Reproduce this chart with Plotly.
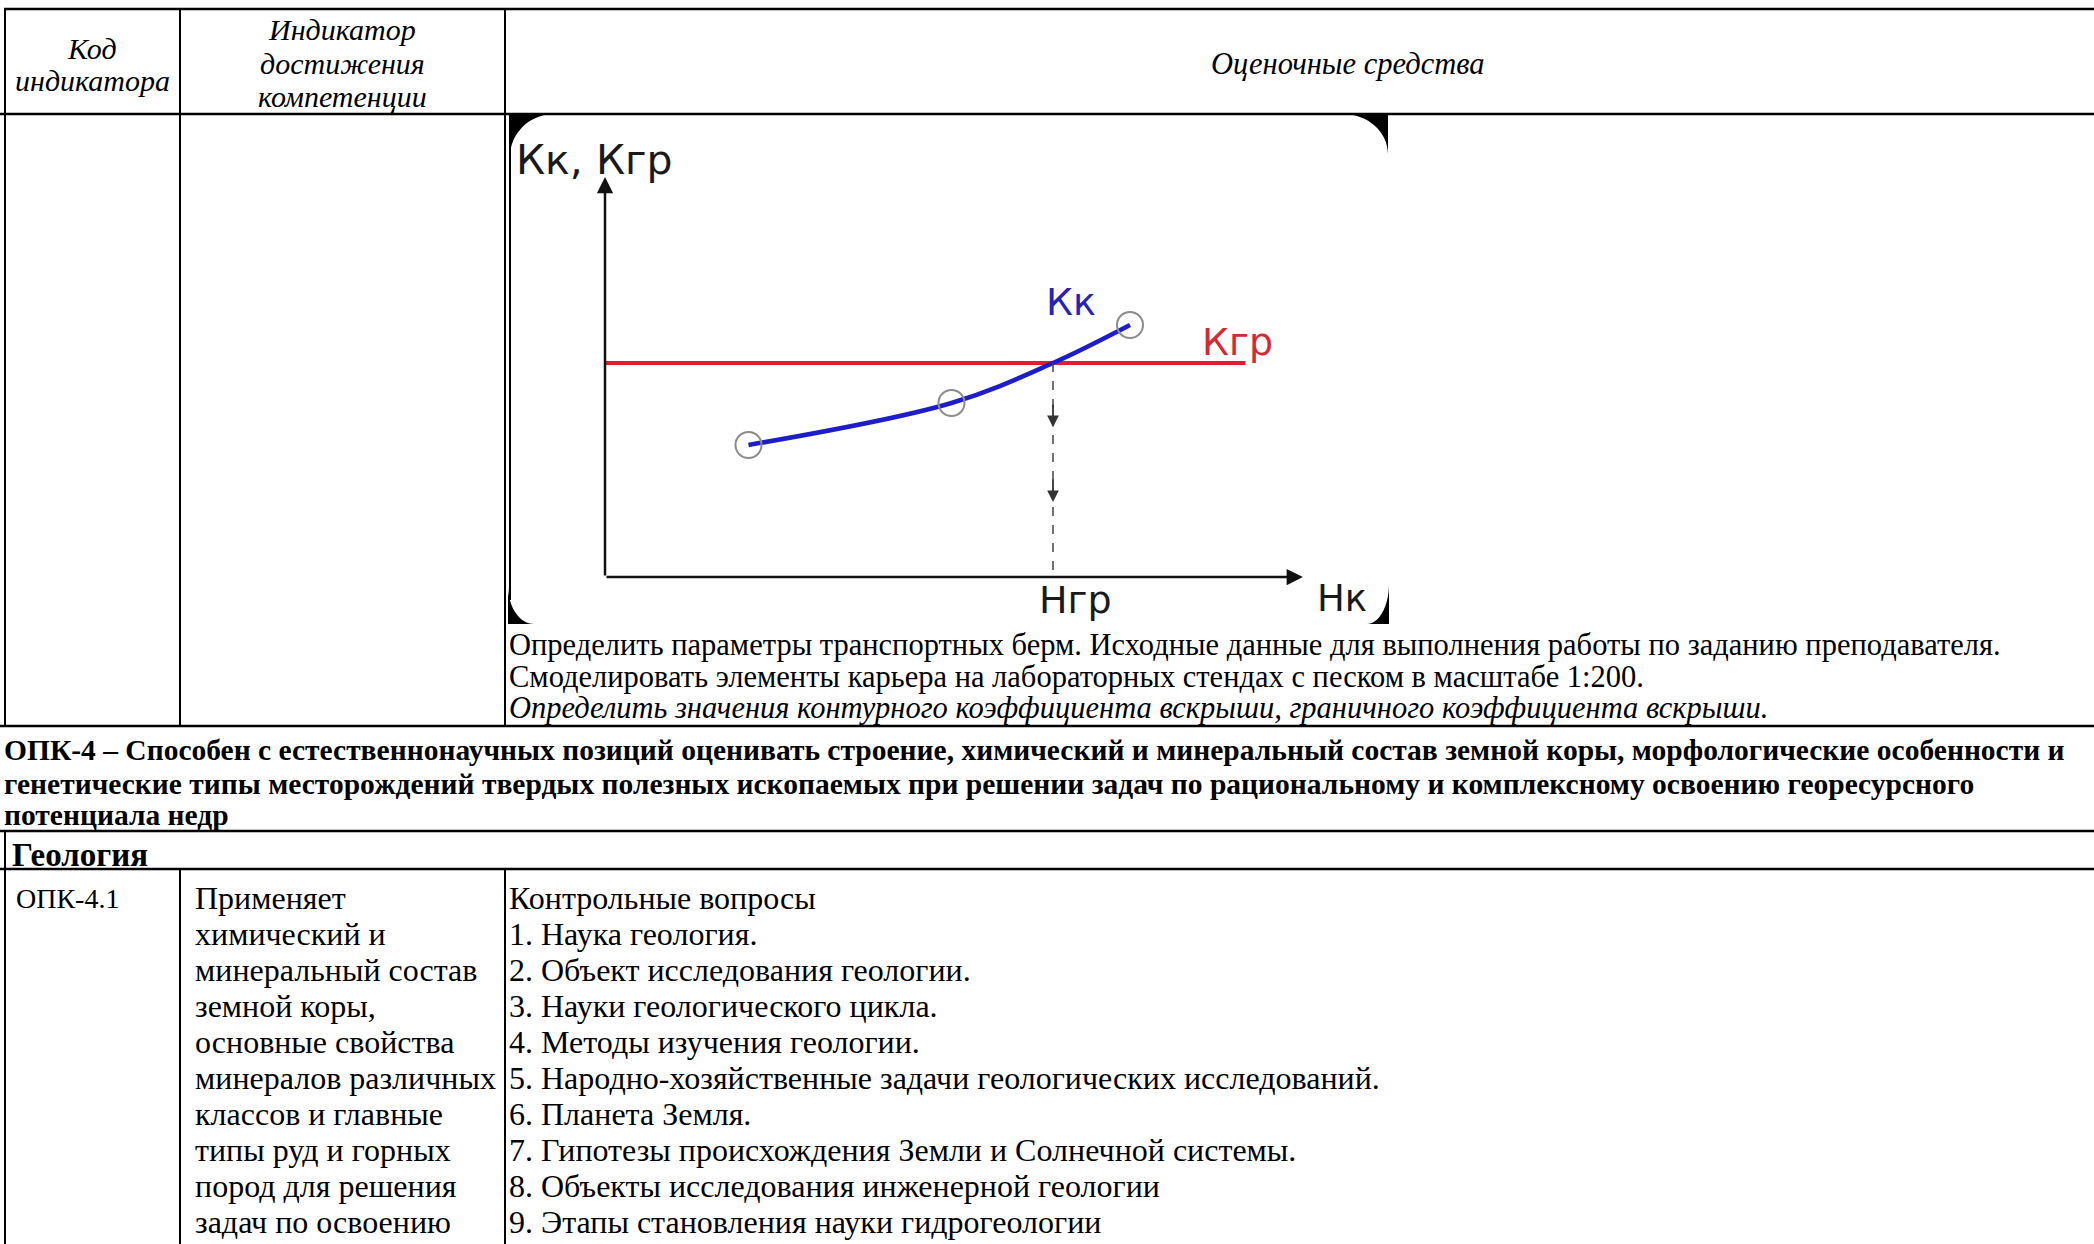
import plotly.graph_objects as go

W, H = 2094, 1244

# ---------------- chart data ----------------
hk_points = [2.05, 4.95, 7.5]          # Нк at the measured points
kk_points = [3.3, 4.35, 6.3]           # Кк at the measured points
hk_curve = [2.05, 4.95, 6.4, 7.5]      # Кк curve incl. crossing with Кгр
kk_curve = [3.3, 4.35, 5.35, 6.3]
kgr_value = 5.35                        # Кгр level
ngr_value = 6.4                         # Нгр
kgr_line_x = [0, 9.15]
axis_max = 10

chart_labels = {"y": "Кк, Кгр", "kk": "Кк", "kgr": "Кгр", "ngr": "Нгр", "nk": "Нк"}

# ---------------- table text ----------------
header_col1 = ["Код", "индикатора"]
header_col2 = ["Индикатор", "достижения", "компетенции"]
header_col3 = "Оценочные средства"

upper_texts = [
    "Определить параметры транспортных берм. Исходные данные для выполнения работы по заданию преподавателя.",
    "Смоделировать элементы карьера на лабораторных стендах с песком в масштабе 1:200.",
    "Определить значения контурного коэффициента вскрыши, граничного коэффициента вскрыши.",
]
opk_lines = [
    "ОПК-4 – Способен с естественнонаучных позиций оценивать строение, химический и минеральный состав земной коры, морфологические особенности и",
    "генетические типы месторождений твердых полезных ископаемых при решении задач по рациональному и комплексному освоению георесурсного",
    "потенциала недр",
]
section_title = "Геология"
code_text = "ОПК-4.1"
indicator_lines = [
    "Применяет", "химический и", "минеральный состав", "земной коры,",
    "основные свойства", "минералов различных", "классов и главные",
    "типы руд и горных", "пород для решения", "задач по освоению",
]
question_lines = [
    "Контрольные вопросы",
    "1. Наука геология.",
    "2. Объект исследования геологии.",
    "3. Науки геологического цикла.",
    "4. Методы изучения геологии.",
    "5. Народно-хозяйственные задачи геологических исследований.",
    "6. Планета Земля.",
    "7. Гипотезы происхождения Земли и Солнечной системы.",
    "8. Объекты исследования инженерной геологии",
    "9. Этапы становления науки гидрогеологии",
]

SERIF = "Liberation Serif, Times New Roman, serif"
SANS = "DejaVu Sans, Arial, sans-serif"

fig = go.Figure()

# chart area in pixels
cx0, cx1 = 605, 1305
cy0, cy1 = 577, 177   # bottom (value 0), top (value axis_max)

# ---- chart traces ----
fig.add_trace(go.Scatter(x=kgr_line_x, y=[kgr_value, kgr_value], mode="lines",
                         line=dict(color="#e01f2d", width=4), xaxis="x2", yaxis="y2",
                         hoverinfo="skip"))
fig.add_trace(go.Scatter(x=hk_curve, y=kk_curve, mode="lines",
                         line=dict(color="#1d1dc9", width=4.5, shape="spline", smoothing=1.0),
                         xaxis="x2", yaxis="y2", hoverinfo="skip"))
fig.add_trace(go.Scatter(x=hk_points, y=kk_points, mode="markers",
                         marker=dict(symbol="circle-open", size=26, color="#8c8c8c",
                                     line=dict(width=2, color="#8c8c8c")),
                         xaxis="x2", yaxis="y2", hoverinfo="skip"))

shapes = []
ann = []

# ---- table lines ----
def hline(y, x0=0, x1=W, w=2.5):
    shapes.append(dict(type="line", xref="x", yref="y", x0=x0, x1=x1, y0=y, y1=y,
                       line=dict(color="black", width=w)))

def vline(x, y0, y1, w=2):
    shapes.append(dict(type="line", xref="x", yref="y", x0=x, x1=x, y0=y0, y1=y1,
                       line=dict(color="black", width=w)))

y_top, y_head, y_up, y_opk, y_geo = 9, 114, 726, 831, 869
hline(y_top, x0=4)
hline(y_head)
hline(y_up)
hline(y_opk)
hline(y_geo)
for xv in (5, 180, 505):
    vline(xv, y_top, y_up)
vline(5, y_opk, H)
vline(180, y_geo, H)
vline(505, y_geo, H)
# left edge of the picture
vline(510, y_head, 600, w=2)

# ---- rounded corners of the picture (black) ----
K = 0.552
def corner(xc, yc, rx, ry, sx, sy):
    p1 = (xc + sx * rx, yc)
    c1 = (xc + sx * rx * (1 - K), yc)
    c2 = (xc, yc + sy * ry * (1 - K))
    p2 = (xc, yc + sy * ry)
    return (f"M {xc},{yc} L {p1[0]},{p1[1]} C {c1[0]},{c1[1]} {c2[0]},{c2[1]} "
            f"{p2[0]},{p2[1]} Z")

for (xc, yc, rx, ry, sx, sy) in [(510, 114, 44, 43, 1, 1), (1388, 114, 45, 40, -1, 1),
                                 (508, 624, 26, 38, 1, -1), (1389, 624, 22, 40, -1, -1)]:
    shapes.append(dict(type="path", xref="x", yref="y", path=corner(xc, yc, rx, ry, sx, sy),
                       fillcolor="black", line=dict(width=0)))

# dashed drop line from crossing to the Нк axis
shapes.append(dict(type="line", xref="x2", yref="y2", x0=ngr_value, x1=ngr_value,
                   y0=kgr_value, y1=0, line=dict(color="#444", width=1.5, dash="dash")))

# axes arrows
ann.append(dict(xref="x2", yref="y2", axref="x2", ayref="y2", x=0, y=axis_max, ax=0, ay=0,
                showarrow=True, arrowhead=2, arrowsize=1.3, arrowwidth=2.5, arrowcolor="#111", text=""))
ann.append(dict(xref="x2", yref="y2", axref="x2", ayref="y2", x=axis_max * 0.997, y=0, ax=0, ay=0,
                showarrow=True, arrowhead=2, arrowsize=1.3, arrowwidth=2.5, arrowcolor="#111", text=""))
for frac in (0.7, 0.35):
    ann.append(dict(xref="x2", yref="y2", axref="x2", ayref="y2", x=ngr_value, y=kgr_value * frac,
                    ax=ngr_value, ay=kgr_value * frac + 0.6, showarrow=True, arrowhead=2,
                    arrowsize=1.3, arrowwidth=1.8, arrowcolor="#333", text=""))

def label(text, x, y, size, color="#1a1a1a", anchor="center"):
    ann.append(dict(xref="x", yref="y", x=x, y=y, text=text, showarrow=False,
                    xanchor=anchor, yanchor="middle", font=dict(family=SANS, size=size, color=color)))

label(chart_labels["y"], 514, 160, 41, anchor="left")
label(chart_labels["kk"], 1071, 302, 38, color="#2424b5")
label(chart_labels["kgr"], 1237, 342, 38, color="#d42a35")
label(chart_labels["ngr"], 1075, 600, 38)
label(chart_labels["nk"], 1342, 598, 37)

# ---- table text ----
def txt(text, x, y, size, anchor="left", bold=False, italic=False):
    t = text
    if bold:
        t = f"<b>{t}</b>"
    if italic:
        t = f"<i>{t}</i>"
    ann.append(dict(xref="x", yref="y", x=x, y=y, text=t, showarrow=False, xanchor=anchor,
                    yanchor="middle", font=dict(family=SERIF, size=size, color="black")))

for t, yv in zip(header_col1, [48, 80]):
    txt(t, 92, yv, 30, anchor="center", italic=True)
for t, yv in zip(header_col2, [29, 63, 96]):
    txt(t, 342, yv, 30, anchor="center", italic=True)
txt(header_col3, 1348, 64, 30.5, anchor="center", italic=True)

for i, (t, yv) in enumerate(zip(upper_texts, [645, 677, 708])):
    txt(t, 507, yv, 30.5, italic=(i == 2))

for t, yv in zip(opk_lines, [750, 784, 815]):
    txt(t, 2, yv, 29.5, bold=True)

txt(section_title, 10, 855, 33, bold=True)

txt(code_text, 14, 898, 28)
for i, t in enumerate(indicator_lines):
    txt(t, 193, 898 + i * 36, 32)
for i, t in enumerate(question_lines):
    txt(t, 507, 898 + i * 36, 32)

fig.update_layout(
    width=W, height=H, margin=dict(l=0, r=0, t=0, b=0),
    paper_bgcolor="white", plot_bgcolor="rgba(0,0,0,0)", showlegend=False,
    xaxis=dict(range=[0, W], domain=[0, 1], visible=False, fixedrange=True),
    yaxis=dict(range=[H, 0], domain=[0, 1], visible=False, fixedrange=True),
    xaxis2=dict(range=[0, axis_max], domain=[cx0 / W, cx1 / W], anchor="y2", visible=False),
    yaxis2=dict(range=[0, axis_max], domain=[1 - cy0 / H, 1 - cy1 / H], anchor="x2", visible=False),
    shapes=shapes, annotations=ann,
)

fig.write_html("out.html", config={"displayModeBar": False},
               post_script="document.body.style.margin='0';document.body.style.overflow='hidden';")
